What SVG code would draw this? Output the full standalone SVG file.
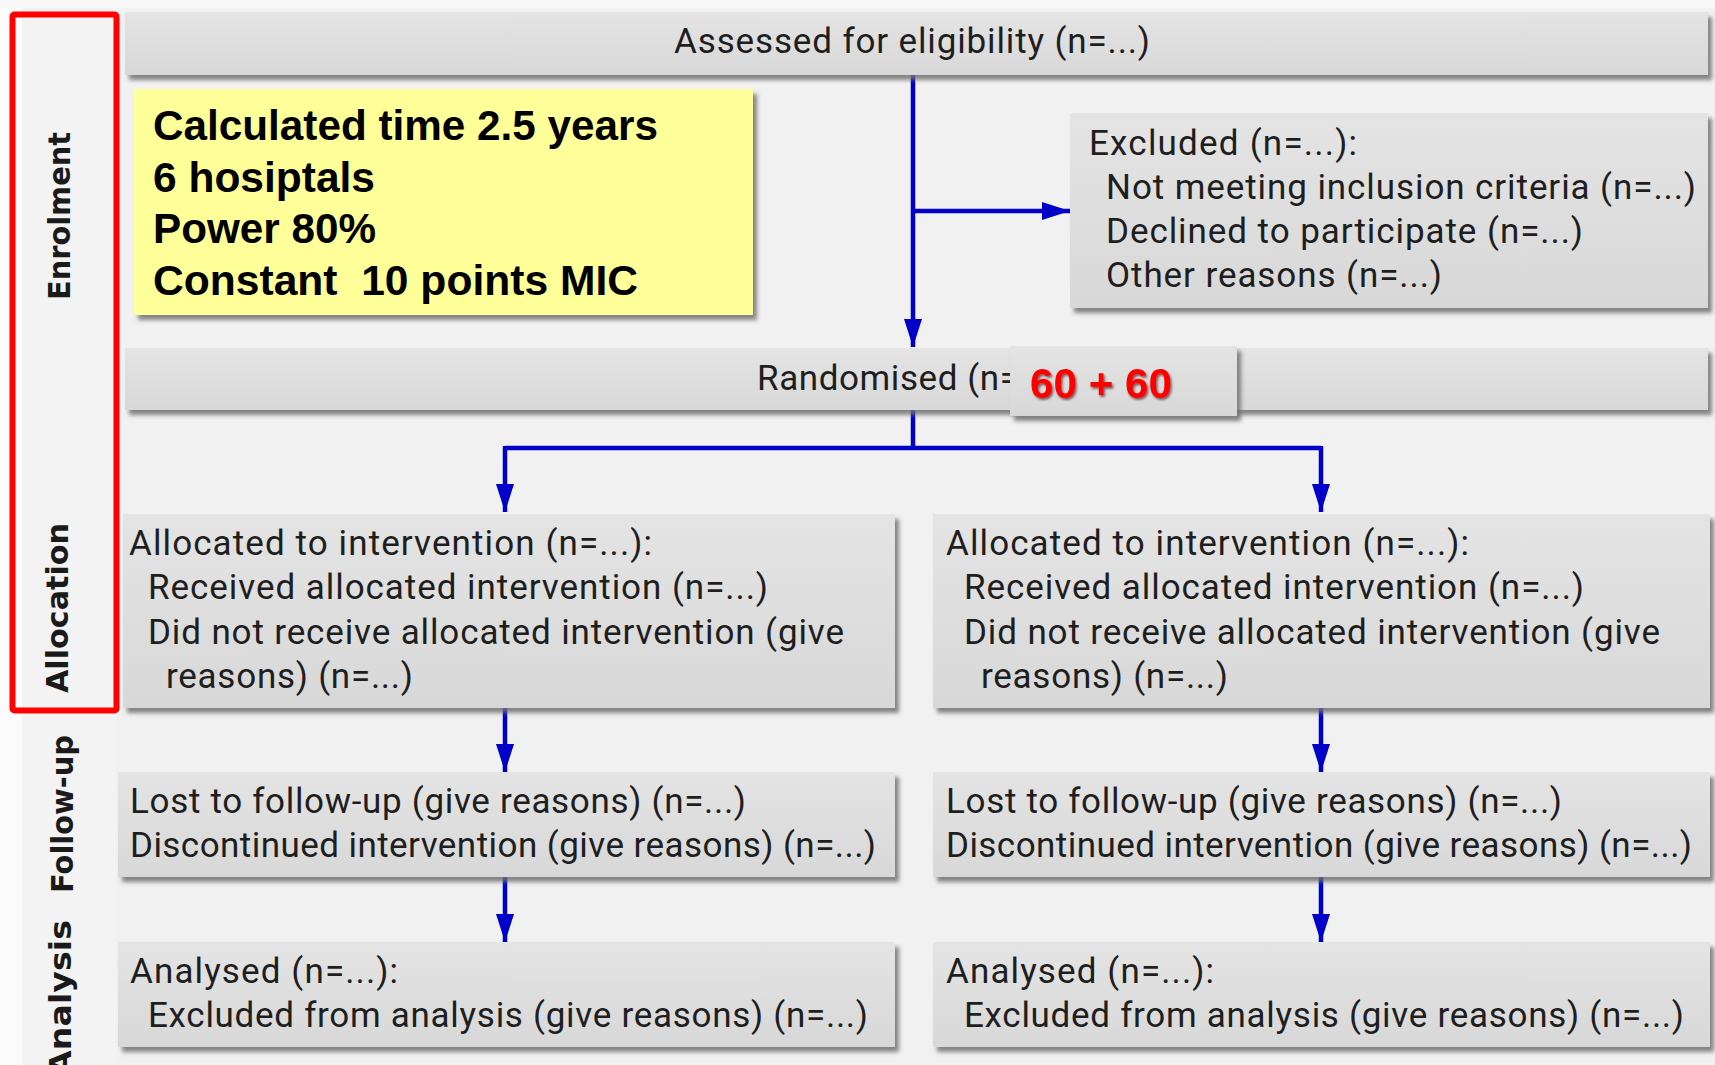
<svg xmlns="http://www.w3.org/2000/svg" width="1715" height="1065" viewBox="0 0 1715 1065">
<style>
.box{fill:url(#g);filter:url(#sh)}
.t{font-family:Roboto,"Open Sans",sans-serif;font-size:35px;fill:#1e1e1e}
.lab{font-family:"DejaVu Sans",sans-serif;font-weight:bold;font-size:30px;fill:#1a1a1a}
.y{font-family:"Liberation Sans",Arial,sans-serif;font-weight:bold;font-size:42px;fill:#000}
.c{stroke:#0000c8;stroke-width:4.5;fill:none}
</style>
<defs>
<linearGradient id="g" x1="0" y1="0" x2="0" y2="1">
<stop offset="0" stop-color="#e4e4e4"/>
<stop offset="1" stop-color="#d8d8d8"/>
</linearGradient>
<filter id="sh" x="-5%" y="-10%" width="115%" height="130%">
<feDropShadow dx="4" dy="5" stdDeviation="2" flood-color="#707070" flood-opacity="0.85"/>
</filter>
<filter id="ts" x="-10%" y="-20%" width="130%" height="150%">
<feDropShadow dx="1.5" dy="2" stdDeviation="1" flood-color="#400000" flood-opacity="0.6"/>
</filter>
<marker id="ah" viewBox="0 0 28 18" refX="28" refY="9" markerWidth="28" markerHeight="18" markerUnits="userSpaceOnUse" orient="auto">
<path d="M0,0 L28,9 L0,18 Z" fill="#0000c8"/>
</marker>
</defs>
<rect x="0" y="0" width="1715" height="1065" fill="#f1f1f1"/>
<rect x="0" y="0" width="22" height="1065" fill="#fbfbfb"/>
<rect x="0" y="0" width="1715" height="8" fill="#f8f8f8"/>
<rect x="22" y="8" width="94" height="1057" fill="#f3f3f3"/>

<g id="labels">
<text class="lab" transform="translate(70,216) rotate(-90)" text-anchor="middle" textLength="168" lengthAdjust="spacingAndGlyphs">Enrolment</text>
<text class="lab" transform="translate(68,608) rotate(-90)" text-anchor="middle" textLength="170" lengthAdjust="spacingAndGlyphs">Allocation</text>
<text class="lab" transform="translate(73,814) rotate(-90)" text-anchor="middle" textLength="158" lengthAdjust="spacingAndGlyphs">Follow-up</text>
<text class="lab" transform="translate(71,998) rotate(-90)" text-anchor="middle" textLength="156" lengthAdjust="spacingAndGlyphs">Analysis</text>
</g>

<g id="connectors">
<line class="c" x1="913" y1="75" x2="913" y2="347" marker-end="url(#ah)"/>
<line class="c" x1="913" y1="211" x2="1070" y2="211" marker-end="url(#ah)"/>
<polyline class="c" points="913,410 913,448"/>
<polyline class="c" points="505,448 1321,448"/>
<line class="c" x1="505" y1="446" x2="505" y2="512" marker-end="url(#ah)"/>
<line class="c" x1="1321" y1="446" x2="1321" y2="512" marker-end="url(#ah)"/>
<line class="c" x1="505" y1="708" x2="505" y2="772" marker-end="url(#ah)"/>
<line class="c" x1="1321" y1="708" x2="1321" y2="772" marker-end="url(#ah)"/>
<line class="c" x1="505" y1="877" x2="505" y2="942" marker-end="url(#ah)"/>
<line class="c" x1="1321" y1="877" x2="1321" y2="942" marker-end="url(#ah)"/>
</g>

<g id="assessed">
<rect class="box" x="125" y="12" width="1583" height="63"/>
<text class="t" x="674" y="53" textLength="476" lengthAdjust="spacing">Assessed for eligibility (n=...)</text>
</g>

<g id="note">
<rect x="134" y="89" width="619" height="226" fill="#ffff99" filter="url(#sh)"/>
<text class="y" x="153" y="140" textLength="505" lengthAdjust="spacingAndGlyphs">Calculated time 2.5 years</text>
<text class="y" x="153" y="192" textLength="222" lengthAdjust="spacingAndGlyphs">6 hosiptals</text>
<text class="y" x="153" y="243" textLength="223" lengthAdjust="spacingAndGlyphs">Power 80%</text>
<text class="y" x="153" y="295" textLength="485" lengthAdjust="spacingAndGlyphs" xml:space="preserve">Constant  10 points MIC</text>
</g>

<g id="excluded">
<rect class="box" x="1070" y="113" width="638" height="195"/>
<text class="t" x="1089" y="155" textLength="268" lengthAdjust="spacing">Excluded (n=...):</text>
<text class="t" x="1106" y="199" textLength="590" lengthAdjust="spacing">Not meeting inclusion criteria (n=...)</text>
<text class="t" x="1106" y="243" textLength="477" lengthAdjust="spacing">Declined to participate (n=...)</text>
<text class="t" x="1106" y="287" textLength="336" lengthAdjust="spacing">Other reasons (n=...)</text>
</g>

<g id="randomised">
<rect class="box" x="125" y="348" width="1583" height="62"/>
<text class="t" x="757" y="390" textLength="262" lengthAdjust="spacing">Randomised (n=</text>
</g>

<g id="count">
<rect class="box" x="1010" y="346" width="227" height="70"/>
<text x="1030" y="398" font-family="Liberation Sans,Arial,sans-serif" font-weight="bold" font-size="42" fill="#ff0000" filter="url(#ts)" textLength="142" lengthAdjust="spacingAndGlyphs">60 + 60</text>
</g>

<g id="alloc-left">
<rect class="box" x="123" y="514" width="772" height="194"/>
<text class="t" x="129" y="555" textLength="523" lengthAdjust="spacing">Allocated to intervention (n=...):</text>
<text class="t" x="148" y="599" textLength="620" lengthAdjust="spacing">Received allocated intervention (n=...)</text>
<text class="t" x="148" y="644" textLength="696" lengthAdjust="spacing">Did not receive allocated intervention (give</text>
<text class="t" x="166" y="688" textLength="247" lengthAdjust="spacing">reasons) (n=...)</text>
</g>

<g id="alloc-right">
<rect class="box" x="933" y="514" width="777" height="194"/>
<text class="t" x="946" y="555" textLength="523" lengthAdjust="spacing">Allocated to intervention (n=...):</text>
<text class="t" x="964" y="599" textLength="620" lengthAdjust="spacing">Received allocated intervention (n=...)</text>
<text class="t" x="964" y="644" textLength="696" lengthAdjust="spacing">Did not receive allocated intervention (give</text>
<text class="t" x="981" y="688" textLength="247" lengthAdjust="spacing">reasons) (n=...)</text>
</g>

<g id="follow-left">
<rect class="box" x="118" y="772" width="777" height="105"/>
<text class="t" x="130" y="813" textLength="616" lengthAdjust="spacing">Lost to follow-up (give reasons) (n=...)</text>
<text class="t" x="130" y="857" textLength="746" lengthAdjust="spacing">Discontinued intervention (give reasons) (n=...)</text>
</g>

<g id="follow-right">
<rect class="box" x="933" y="772" width="777" height="105"/>
<text class="t" x="946" y="813" textLength="616" lengthAdjust="spacing">Lost to follow-up (give reasons) (n=...)</text>
<text class="t" x="946" y="857" textLength="746" lengthAdjust="spacing">Discontinued intervention (give reasons) (n=...)</text>
</g>

<g id="analysis-left">
<rect class="box" x="118" y="942" width="777" height="105"/>
<text class="t" x="130" y="983" textLength="268" lengthAdjust="spacing">Analysed (n=...):</text>
<text class="t" x="148" y="1027" textLength="720" lengthAdjust="spacing">Excluded from analysis (give reasons) (n=...)</text>
</g>

<g id="analysis-right">
<rect class="box" x="933" y="942" width="777" height="105"/>
<text class="t" x="946" y="983" textLength="268" lengthAdjust="spacing">Analysed (n=...):</text>
<text class="t" x="964" y="1027" textLength="720" lengthAdjust="spacing">Excluded from analysis (give reasons) (n=...)</text>
</g>

<g id="highlight">
<rect x="12.5" y="14.5" width="104" height="696" rx="2" fill="none" stroke="#ff0000" stroke-width="6"/>
</g>
</svg>
